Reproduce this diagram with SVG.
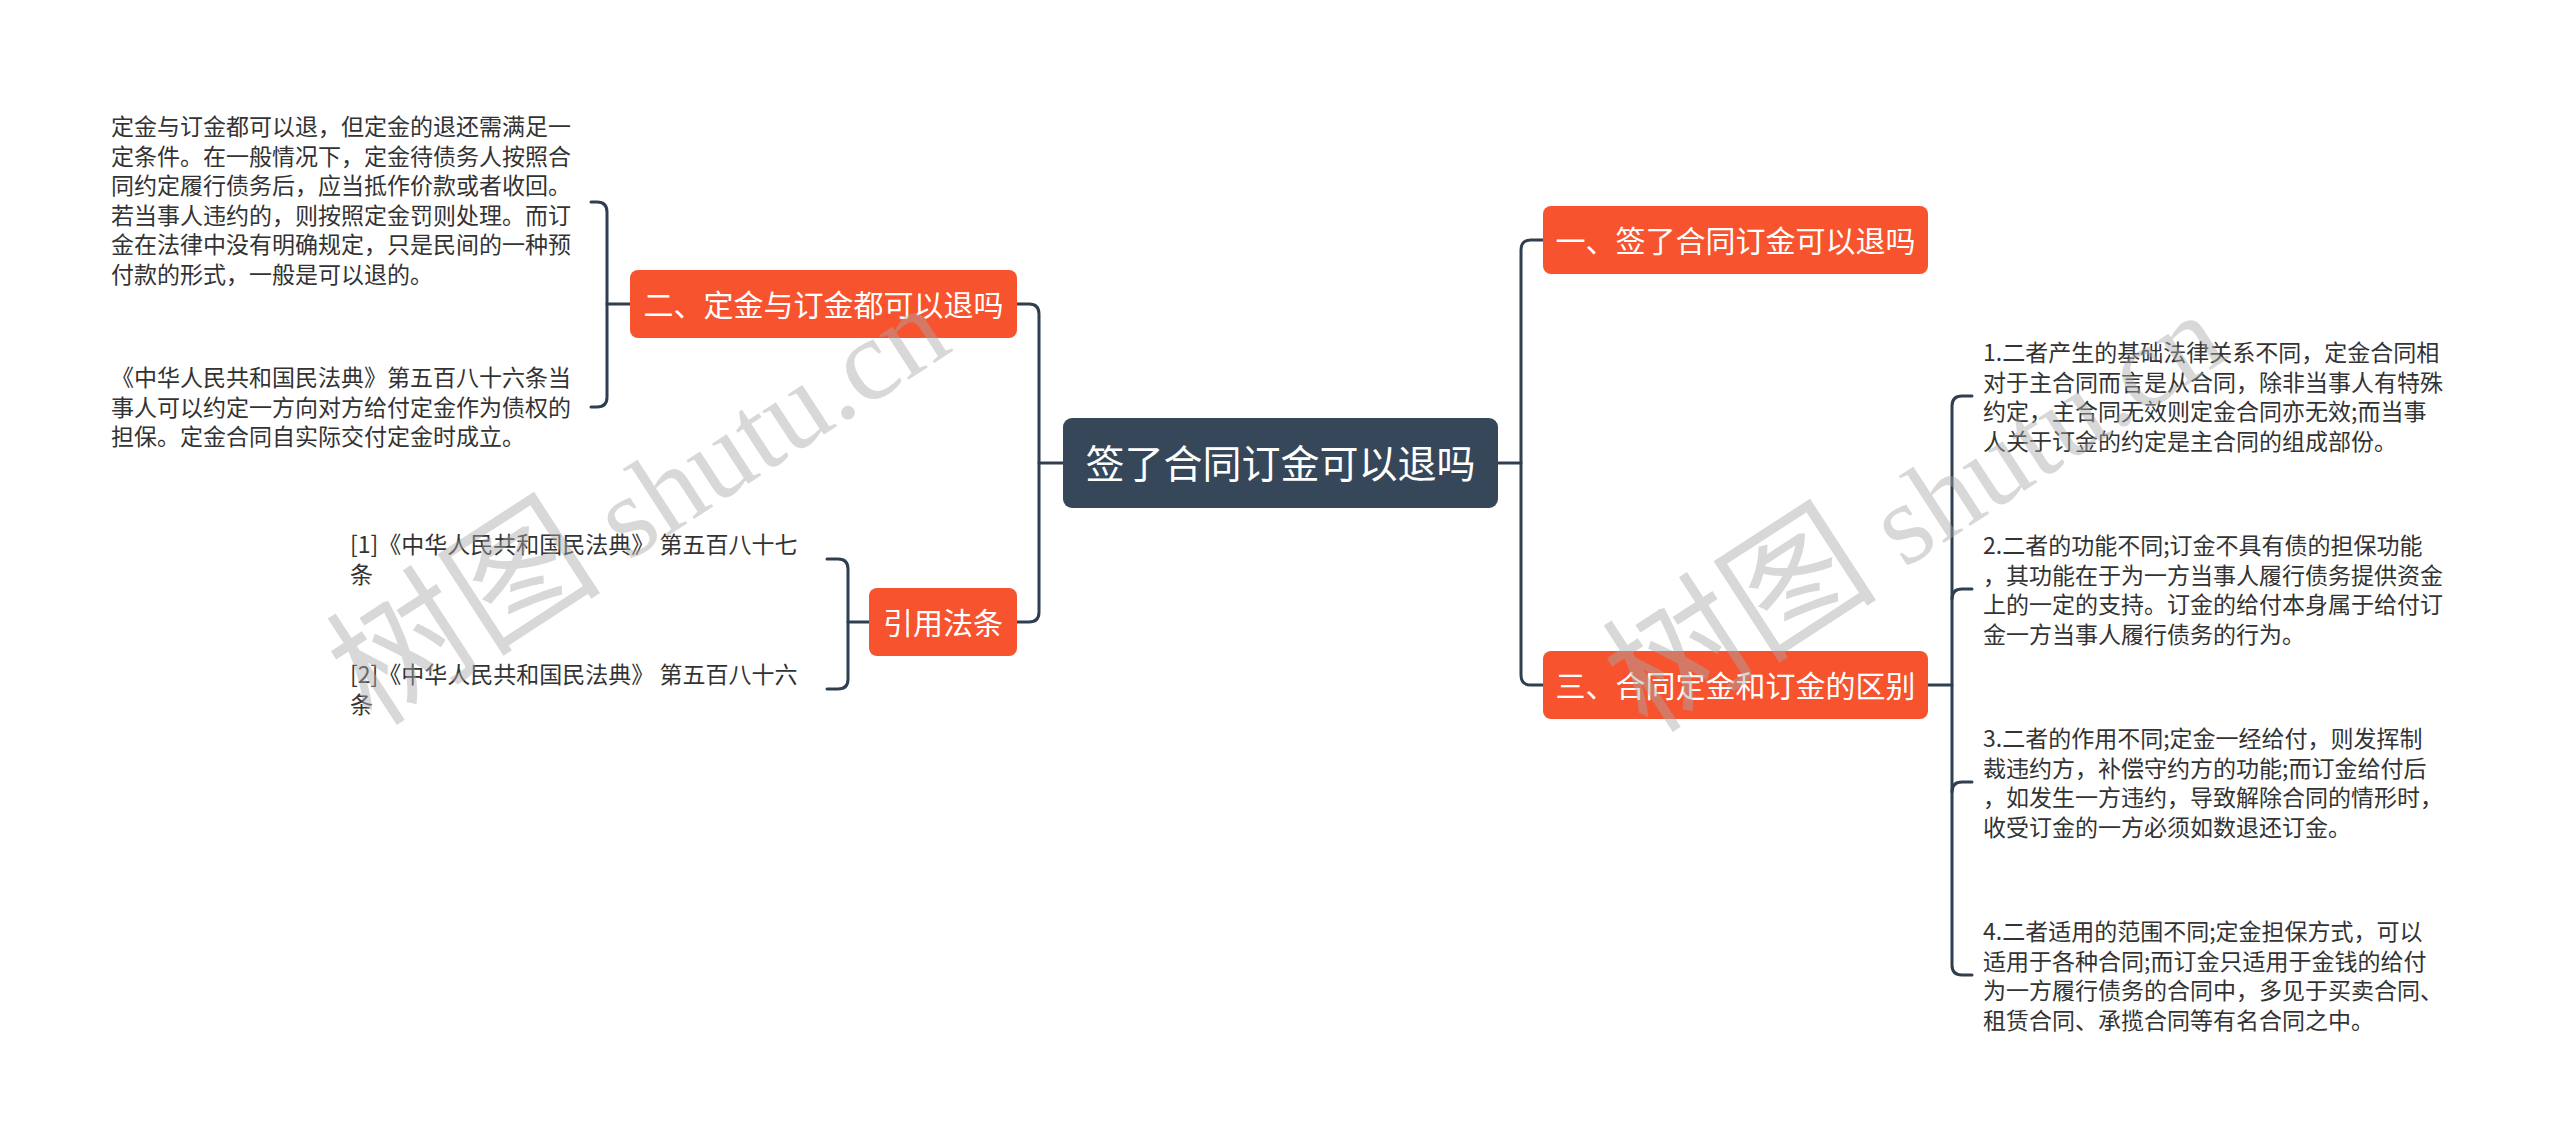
<svg xmlns="http://www.w3.org/2000/svg" width="2560" height="1145" viewBox="0 0 2560 1145">
<style>
.bg{fill:#ffffff}
.root rect{fill:#364759}
.main rect{fill:#f7532e}
.root text{fill:#ffffff;font-family:"Noto Sans CJK SC","Noto Sans",sans-serif;font-size:39px;text-anchor:middle}
.main text{fill:#ffffff;font-family:"Noto Sans CJK SC","Noto Sans",sans-serif;font-size:30px;text-anchor:middle}
.leaf text{fill:#333333;font-family:"Noto Sans CJK SC","Noto Sans",sans-serif;font-size:23px}
.conn path{fill:none;stroke:#2f3f4f;stroke-width:3;stroke-linecap:round}
.wm{fill:#a8a8a8;fill-opacity:0.45;font-family:"Liberation Serif","Noto Sans CJK SC",serif;font-size:116px}
.wm .cjk{font-size:138px}
</style>
<rect class="bg" x="0" y="0" width="2560" height="1145"/>

<g id="connectors" class="conn">
  <path d="M1063 463 H1039"/>
  <path d="M1017 304 H1029 Q1039 304 1039 314 V612 Q1039 622 1029 622 H1017"/>
  <path d="M1498 463 H1521"/>
  <path d="M1543 240 H1531 Q1521 240 1521 250 V675 Q1521 685 1531 685 H1543"/>
  <path d="M630 304 H607"/>
  <path d="M591 202 H597 Q607 202 607 212 V397 Q607 407 597 407 H591"/>
  <path d="M869 622 H848"/>
  <path d="M827 559 H838 Q848 559 848 569 V679 Q848 689 838 689 H827"/>
  <path d="M1928 685 H1952"/>
  <path d="M1972 396 H1962 Q1952 396 1952 406 V965 Q1952 975 1962 975 H1972"/>
  <path d="M1952 599 Q1952 589 1962 589 H1972"/>
  <path d="M1952 792 Q1952 782 1962 782 H1972"/>
</g>

<g id="root" class="root">
  <rect x="1063" y="418" width="435" height="90" rx="9"/>
  <text x="1280.5" y="478">签了合同订金可以退吗</text>
</g>

<g id="n1" class="main">
  <rect x="1543" y="206" width="385" height="68" rx="8"/>
  <text x="1735.5" y="251.5">一、签了合同订金可以退吗</text>
</g>

<g id="n2" class="main">
  <rect x="630" y="270" width="387" height="68" rx="8"/>
  <text x="823.5" y="315.5">二、定金与订金都可以退吗</text>
</g>

<g id="n3" class="main">
  <rect x="1543" y="651" width="385" height="68" rx="8"/>
  <text x="1735.5" y="696.5">三、合同定金和订金的区别</text>
</g>

<g id="n4" class="main">
  <rect x="869" y="588" width="148" height="68" rx="8"/>
  <text x="943" y="633.5">引用法条</text>
</g>

<g id="leaf2a" class="leaf">
  <text x="111" y="135">
    <tspan x="111" dy="0">定金与订金都可以退，但定金的退还需满足一</tspan>
    <tspan x="111" dy="29.5">定条件。在一般情况下，定金待债务人按照合</tspan>
    <tspan x="111" dy="29.5">同约定履行债务后，应当抵作价款或者收回。</tspan>
    <tspan x="111" dy="29.5">若当事人违约的，则按照定金罚则处理。而订</tspan>
    <tspan x="111" dy="29.5">金在法律中没有明确规定，只是民间的一种预</tspan>
    <tspan x="111" dy="29.5">付款的形式，一般是可以退的。</tspan>
  </text>
</g>

<g id="leaf2b" class="leaf">
  <text x="111" y="386">
    <tspan x="111" dy="0">《中华人民共和国民法典》第五百八十六条当</tspan>
    <tspan x="111" dy="29.5">事人可以约定一方向对方给付定金作为债权的</tspan>
    <tspan x="111" dy="29.5">担保。定金合同自实际交付定金时成立。</tspan>
  </text>
</g>

<g id="leaf4a" class="leaf">
  <text x="350" y="553">
    <tspan x="350" dy="0">[1]《中华人民共和国民法典》 第五百八十七</tspan>
    <tspan x="350" dy="29.5">条</tspan>
  </text>
</g>

<g id="leaf4b" class="leaf">
  <text x="350" y="683">
    <tspan x="350" dy="0">[2]《中华人民共和国民法典》 第五百八十六</tspan>
    <tspan x="350" dy="29.5">条</tspan>
  </text>
</g>

<g id="leaf3a" class="leaf">
  <text x="1983" y="361">
    <tspan x="1983" dy="0">1.二者产生的基础法律关系不同，定金合同相</tspan>
    <tspan x="1983" dy="29.5">对于主合同而言是从合同，除非当事人有特殊</tspan>
    <tspan x="1983" dy="29.5">约定，主合同无效则定金合同亦无效;而当事</tspan>
    <tspan x="1983" dy="29.5">人关于订金的约定是主合同的组成部份。</tspan>
  </text>
</g>

<g id="leaf3b" class="leaf">
  <text x="1983" y="554">
    <tspan x="1983" dy="0">2.二者的功能不同;订金不具有债的担保功能</tspan>
    <tspan x="1983" dy="29.5">，其功能在于为一方当事人履行债务提供资金</tspan>
    <tspan x="1983" dy="29.5">上的一定的支持。订金的给付本身属于给付订</tspan>
    <tspan x="1983" dy="29.5">金一方当事人履行债务的行为。</tspan>
  </text>
</g>

<g id="leaf3c" class="leaf">
  <text x="1983" y="747">
    <tspan x="1983" dy="0">3.二者的作用不同;定金一经给付，则发挥制</tspan>
    <tspan x="1983" dy="29.5">裁违约方，补偿守约方的功能;而订金给付后</tspan>
    <tspan x="1983" dy="29.5">，如发生一方违约，导致解除合同的情形时，</tspan>
    <tspan x="1983" dy="29.5">收受订金的一方必须如数退还订金。</tspan>
  </text>
</g>

<g id="leaf3d" class="leaf">
  <text x="1983" y="940">
    <tspan x="1983" dy="0">4.二者适用的范围不同;定金担保方式，可以</tspan>
    <tspan x="1983" dy="29.5">适用于各种合同;而订金只适用于金钱的给付</tspan>
    <tspan x="1983" dy="29.5">为一方履行债务的合同中，多见于买卖合同、</tspan>
    <tspan x="1983" dy="29.5">租赁合同、承揽合同等有名合同之中。</tspan>
  </text>
</g>

<g id="watermarks">
  <text class="wm" transform="translate(372 728) rotate(-33)"><tspan class="cjk">树图</tspan> shutu.cn</text>
  <text class="wm" transform="translate(1648 735) rotate(-33)"><tspan class="cjk">树图</tspan> shutu.cn</text>
</g>
</svg>
